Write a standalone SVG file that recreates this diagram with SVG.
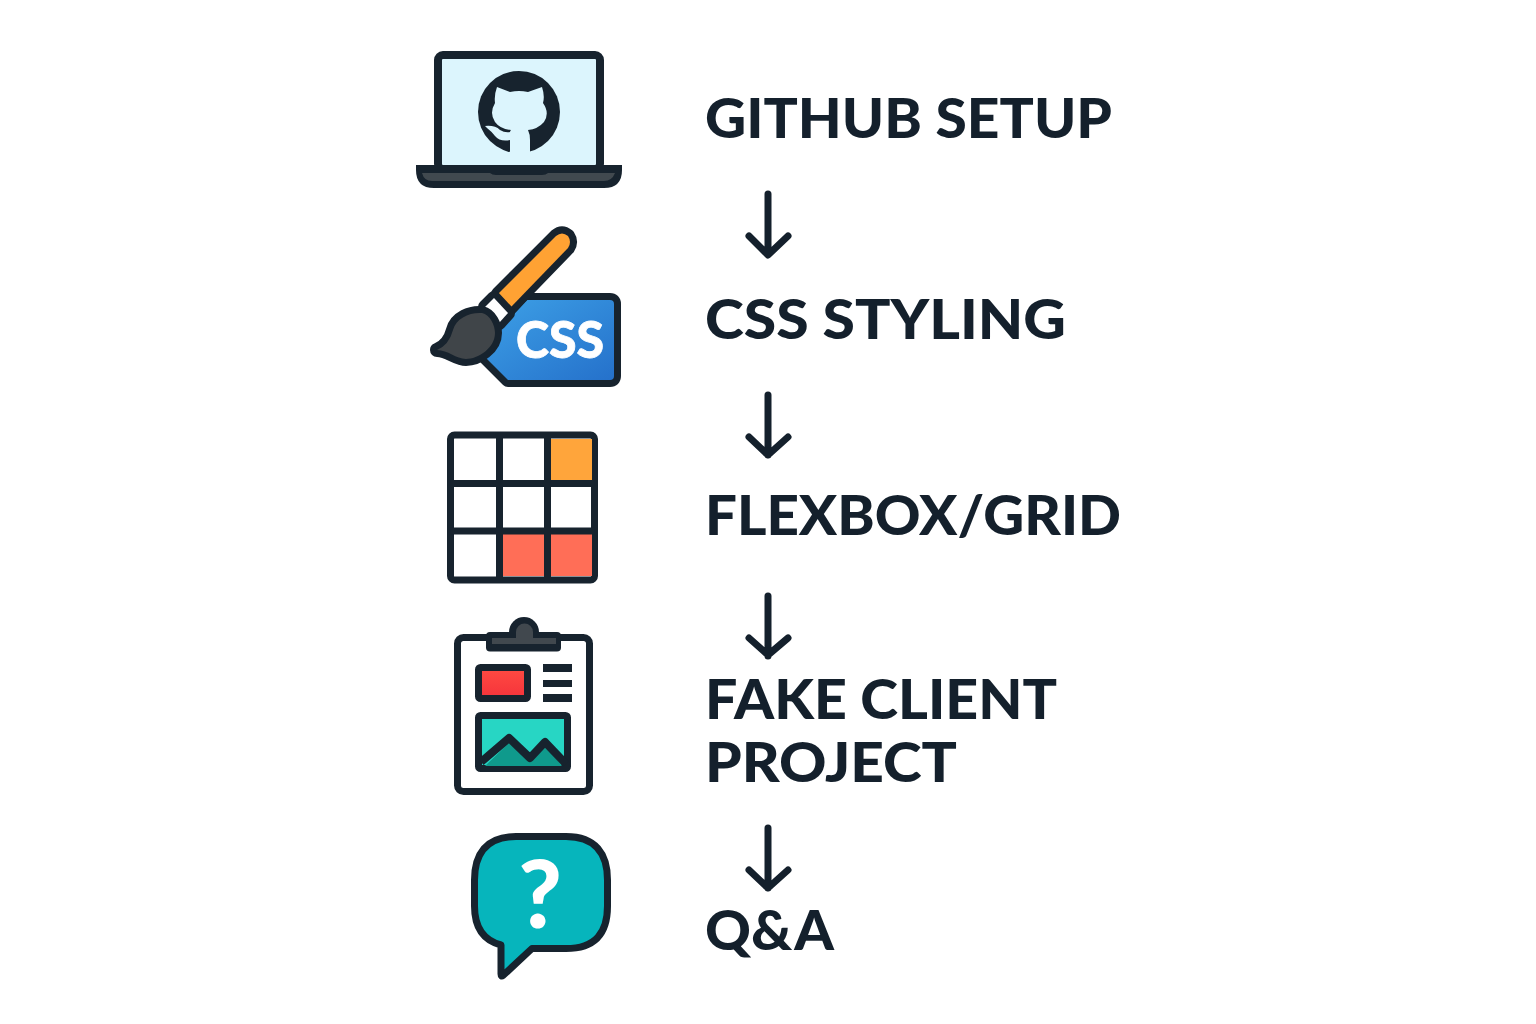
<svg xmlns="http://www.w3.org/2000/svg" width="1536" height="1024" viewBox="0 0 1536 1024">
<defs>
<style>
.t{font-family:"Lato","Open Sans",sans-serif;font-weight:900;font-size:55px;fill:#14202c}
.d{stroke:#17232e;stroke-width:7;stroke-linejoin:round;stroke-linecap:round}
.o{stroke:#17232e;stroke-width:14;stroke-linejoin:round;paint-order:stroke}
.a{fill:none;stroke:#14202c;stroke-width:7;stroke-linecap:round;stroke-linejoin:round}
.k{fill:#17232e}
.w{font-family:"Lato","Open Sans",sans-serif;font-weight:900;fill:#fff;text-anchor:middle}
</style>
<linearGradient id="blue" x1="0" y1="0" x2="1" y2="1"><stop offset="0" stop-color="#3da0e6"/><stop offset="1" stop-color="#2571cb"/></linearGradient>
<linearGradient id="red" x1="0" y1="0" x2="0" y2="1"><stop offset="0" stop-color="#ff4b42"/><stop offset="1" stop-color="#f5333b"/></linearGradient>
</defs>
<rect width="1536" height="1024" fill="#fff"/>
<g id="connectors">
<path class="a" d="M768 194V254M749 236L768 255L788 236"/>
<path class="a" d="M768 395V455M749 437L768 455L788 437"/>
<path class="a" d="M768 596V656M749 638L768 655L788 638"/>
<path class="a" d="M768 828V888M749 870L768 888L788 870"/>
</g>
<g id="node-github">
<rect x="438" y="55" width="162" height="114" rx="5" fill="#dcf5fd" stroke="#17232e" stroke-width="8"/>
<circle cx="519" cy="112" r="41" class="k"/>
<path d="M497 87L510 92Q519 90 528 92L542 87Q545 96 543 103Q550 113 544 122Q538 129 528 130Q530 134 530 140V155H510V140Q500 142 495 136Q491 131 487 128L485 126Q495 125 500 130Q505 133 510 132Q510 131 511 130Q500 129 495 122Q489 113 495 103Q494 95 497 87Z" fill="#dcf5fd"/>
<path d="M416 165H622V170Q622 188 604 188H434Q416 188 416 170Z" class="k"/>
<path d="M422 173H490Q492 175 496 175H542Q546 175 548 173H615Q612 181 604 181H432Q424 181 422 173Z" fill="#41494f"/>
<text x="705" y="138" class="t" textLength="407" lengthAdjust="spacingAndGlyphs">GITHUB SETUP</text>
</g>
<g id="node-css">
<path d="M527 300H610Q614 300 614 304V376Q614 380 610 380H508L485 357L500 330Z" fill="url(#blue)" class="o"/>
<text x="560" y="358" class="w" font-size="51" stroke="#fff" stroke-width="0.800" textLength="88" lengthAdjust="spacingAndGlyphs">CSS</text>
<path d="M498 294L556 236Q562 231 568 236Q572 242 568 248L511 307Z" fill="#ffa233" class="o"/>
<path d="M485 307L494 298L508 313L499 323Z" fill="#fff" class="o"/>
<path d="M437 350Q449 345 453 330C456 318 470 312 482 313C490 315 495 325 495 333C495 348 478 359 466 359C456 359 448 350 437 350Z" fill="#404549" class="o"/>
<text x="705" y="339" class="t" textLength="361" lengthAdjust="spacingAndGlyphs">CSS STYLING</text>
</g>
<g id="node-grid">
<rect x="450.500" y="435" width="144" height="145" rx="4" fill="#fff" stroke="#17232e" stroke-width="7"/>
<rect x="551" y="439" width="41" height="41" fill="#ffa53b"/>
<rect x="503" y="534" width="41" height="42" fill="#ff6e57"/>
<rect x="551" y="534" width="41" height="42" fill="#ff6e57"/>
<path d="M499.500 435V580M547.500 435V580M450.500 483.500H594.500M450.500 531H594.500" fill="none" stroke="#17232e" stroke-width="7"/>
<text x="705" y="535" class="t" textLength="416" lengthAdjust="spacingAndGlyphs">FLEXBOX/GRID</text>
</g>
<g id="node-project">
<rect x="457.500" y="637.500" width="132" height="154" rx="6" fill="#fff" class="d"/>
<circle cx="524" cy="632" r="15" class="k"/>
<rect x="486" y="632" width="75" height="19.500" rx="4" class="k"/>
<rect x="492" y="638" width="64" height="6" fill="#41484e"/>
<path d="M516 638V632A8.500 8.500 0 0 1 533 632V638Z" fill="#41484e"/>
<rect x="478.500" y="667.500" width="49" height="31" rx="2" fill="url(#red)" class="d"/>
<rect x="543" y="664" width="29" height="8" class="k"/>
<rect x="543" y="680" width="29" height="7" class="k"/>
<rect x="543" y="694" width="29" height="8" class="k"/>
<rect x="478.500" y="715.500" width="89" height="53" rx="2" fill="#27d6c4" class="d"/>
<path d="M485 766L509 743L530 761L545 746L562 766Z" fill="#0f9a8c"/>
<path d="M481 762L509 738L530 758L545 742L566 764" fill="none" stroke="#17232e" stroke-width="8" stroke-linejoin="round"/>
<text x="705" y="719" class="t" textLength="352" lengthAdjust="spacingAndGlyphs">FAKE CLIENT</text>
<text x="705" y="782" class="t" textLength="252" lengthAdjust="spacingAndGlyphs">PROJECT</text>
</g>
<g id="node-qa">
<path d="M516 836.500H566C596 836.500 607.500 854 607.500 880V906C607.500 932 596 948.500 566 948.500H532L503 975.500Q501 977 501 974V945C482 940 474.500 926 474.500 906V880C474.500 854 486 836.500 516 836.500Z" fill="#06b5bc" class="d"/>
<text x="540" y="928" class="w" font-size="94">?</text>
<text x="705" y="950" class="t" textLength="129" lengthAdjust="spacingAndGlyphs">Q&amp;A</text>
</g>
</svg>
